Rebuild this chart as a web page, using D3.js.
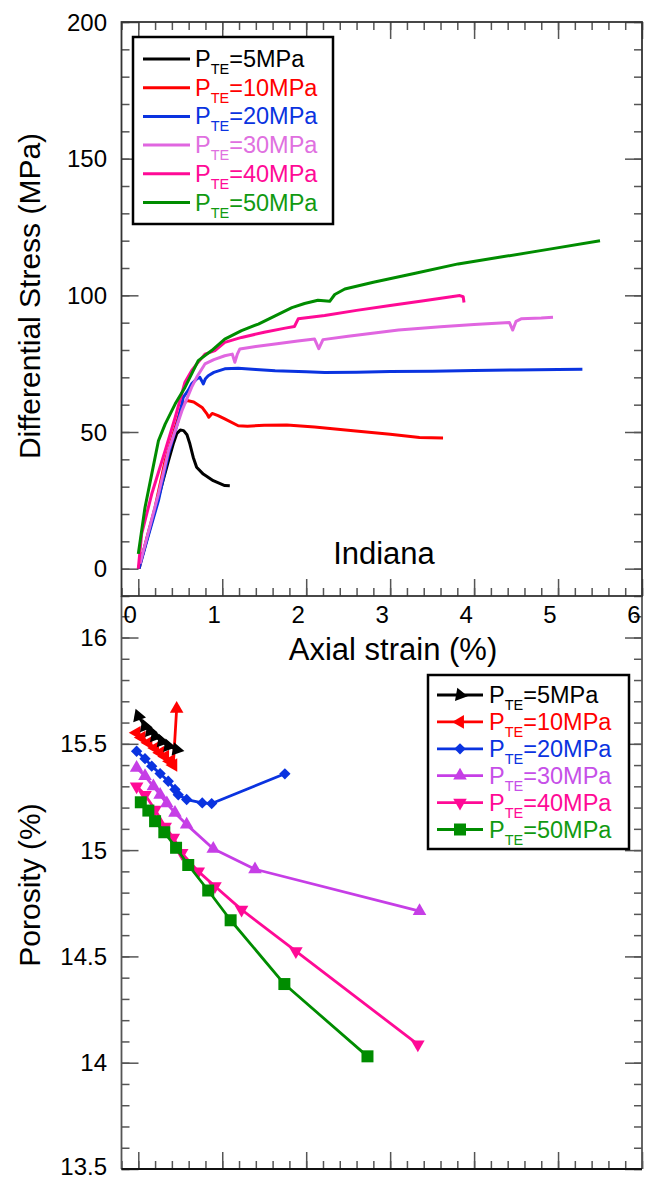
<!DOCTYPE html>
<html><head><meta charset="utf-8">
<script src="https://cdn.jsdelivr.net/npm/d3@7"></script>
<style>html,body{margin:0;padding:0;background:#fff;} svg{display:block;font-family:"Liberation Sans",Arial,Helvetica,sans-serif;}</style>
</head><body><svg id="chart" width="646" height="1179"></svg>
<script>
// ---------- DATA ----------
const seriesLabels = ["=5MPa", "=10MPa", "=20MPa", "=30MPa", "=40MPa", "=50MPa"];

// Top: differential stress (MPa) vs axial strain (%)
const strain5  = [0, 0.06, 0.12, 0.24, 0.36, 0.42, 0.46, 0.5, 0.54, 0.58, 0.615, 0.655, 0.695, 0.774, 0.893, 1.03, 1.09];
const stress5  = [0, 6, 12.7, 26.1, 39.5, 46, 49.5, 50.7, 50.5, 49, 45.6, 40.7, 37.1, 34.6, 32.2, 30.4, 30.3];
const strain10 = [0.01, 0.1, 0.2, 0.32, 0.44, 0.52, 0.58, 0.66, 0.76, 0.82, 0.84, 0.88, 0.95, 1.03, 1.19, 1.3, 1.5, 1.77, 2.1, 2.56, 3.0, 3.35, 3.63];
const stress10 = [0, 11, 22.4, 39.5, 51.7, 59.6, 61.5, 61, 59, 56.5, 55.4, 56.8, 56, 54.8, 52.3, 52.1, 52.5, 52.6, 51.8, 50.5, 49.2, 48.0, 47.8];
const strain20 = [0.01, 0.1, 0.24, 0.36, 0.476, 0.536, 0.6, 0.635, 0.7, 0.734, 0.76, 0.774, 0.8, 0.833, 0.9, 1.03, 1.19, 1.4, 1.63, 2.0, 2.22, 2.6, 3.0, 3.5, 4.0, 4.5, 5.0, 5.29];
const stress20 = [0, 10, 24.9, 42, 54.2, 62.7, 65.5, 67.6, 69.5, 70, 68.5, 67.6, 69.5, 70.6, 71.8, 73.1, 73.3, 72.9, 72.4, 72, 71.8, 71.9, 72.1, 72.2, 72.5, 72.7, 72.9, 73.0];
const strain30 = [0.02, 0.1, 0.24, 0.36, 0.52, 0.635, 0.695, 0.794, 0.9, 1.03, 1.12, 1.15, 1.18, 1.21, 1.4, 1.63, 1.9, 2.1, 2.15, 2.2, 2.5, 3.1, 3.6, 4.0, 4.42, 4.46, 4.5, 4.56, 4.8, 4.94];
const stress30 = [1.8, 11, 27.3, 43.2, 57.8, 66.3, 70, 74.9, 76.5, 77.9, 78.5, 75.5, 78.5, 80.4, 81.3, 82.2, 83.3, 84, 80.5, 83.8, 85, 87.3, 88.5, 89.3, 90.1, 87.3, 90.5, 91.4, 91.7, 92];
const strain40 = [0.0, 0.04, 0.16, 0.32, 0.44, 0.556, 0.635, 0.7, 0.794, 0.913, 1.03, 1.23, 1.5, 1.75, 1.86, 1.905, 2.22, 2.6, 3.0, 3.4, 3.83, 3.87, 3.88];
const stress40 = [0, 12.7, 27.3, 43.2, 55.4, 68.2, 72.4, 75, 78.5, 79.8, 82.8, 84.6, 86.5, 88, 88.6, 91.4, 92.6, 94.5, 96.3, 98, 99.9, 99.5, 97.4];
const strain50 = [0.0, 0.08, 0.16, 0.24, 0.32, 0.44, 0.556, 0.714, 0.874, 1.03, 1.23, 1.43, 1.63, 1.83, 1.98, 2.14, 2.28, 2.34, 2.46, 2.8, 3.3, 3.81, 4.3, 4.9, 5.5];
const stress50 = [5.4, 22.4, 34.6, 46.8, 52.9, 60.3, 66.3, 76.1, 79.8, 84, 87.1, 89.5, 92.5, 95.5, 97, 98.2, 97.8, 100.3, 102.3, 104.8, 108.1, 111.5, 113.9, 116.9, 120];

// Bottom: porosity (%) vs axial strain (%)
const pStrain5  = [0.0, 0.08, 0.14, 0.2, 0.28, 0.357, 0.457];
const poro5     = [15.63, 15.583, 15.56, 15.536, 15.512, 15.49, 15.473];
const pStrain10 = [-0.02, 0.04, 0.12, 0.2, 0.26, 0.32, 0.377, 0.417, 0.457];
const poro10    = [15.552, 15.53, 15.505, 15.48, 15.458, 15.44, 15.418, 15.40, 15.665];
const pStrain20 = [-0.02, 0.08, 0.16, 0.26, 0.357, 0.437, 0.476, 0.576, 0.762, 0.874, 1.746];
const poro20    = [15.465, 15.43, 15.395, 15.36, 15.324, 15.285, 15.26, 15.238, 15.222, 15.219, 15.359];
const pStrain30 = [-0.02, 0.08, 0.18, 0.26, 0.34, 0.437, 0.576, 0.893, 1.39, 3.35];
const poro30    = [15.387, 15.348, 15.30, 15.26, 15.22, 15.175, 15.12, 15.006, 14.91, 14.713];
const pStrain40 = [-0.02, 0.08, 0.2, 0.32, 0.417, 0.517, 0.714, 0.913, 1.23, 1.877, 3.33];
const poro40    = [15.30, 15.26, 15.19, 15.11, 15.058, 14.987, 14.90, 14.83, 14.72, 14.525, 14.086];
const pStrain50 = [0.03, 0.12, 0.2, 0.31, 0.45, 0.595, 0.833, 1.10, 1.74, 2.73];
const poro50    = [15.225, 15.186, 15.136, 15.084, 15.011, 14.93, 14.81, 14.67, 14.37, 14.03];

// Tick labels
const xTickLabels = ["0", "1", "2", "3", "4", "5", "6"];
const yTopTickLabels = ["0", "50", "100", "150", "200"];
const yBotTickLabels = ["13.5", "14", "14.5", "15", "15.5", "16"];

// ---------- STYLE ----------
const topColors = ["#000000", "#ff0000", "#0a33e0", "#e066e0", "#ff0a96", "#008c00"];
const botColors = ["#000000", "#ff0000", "#0a33e0", "#c63ee6", "#ff0a96", "#008c00"];

const svg = d3.select("#chart");
const x = d3.scaleLinear().domain([-0.2, 6]).range([121.5, 642]);
const yTop = d3.scaleLinear().domain([-10, 200]).range([596, 22]);
const yBot = d3.scaleLinear().domain([13.5, 16.2]).range([1169, 595]);

const tickColor = "#555";
function styleAxis(g) {
  g.select(".domain").remove();
  g.selectAll(".tick line").attr("stroke", tickColor).attr("stroke-width", 1.5);
  g.selectAll("text").remove();
}
const xMinor = d3.range(-1, 31).map(i => +(i * 0.2).toFixed(2));
const xMajor = d3.range(0, 7);

function frameAxes(yScale, yMinor, yMajor, top, bottom, drawTop) {
  const L = 121.5, R = 642;
  const make = [
    [d3.axisBottom(x), `translate(0,${bottom})`, xMinor, -8],
    [d3.axisBottom(x), `translate(0,${bottom})`, xMajor, -17],
    [d3.axisLeft(yScale), `translate(${L},0)`, yMinor, -8],
    [d3.axisLeft(yScale), `translate(${L},0)`, yMajor, -17],
    [d3.axisRight(yScale), `translate(${R},0)`, yMinor, -8],
    [d3.axisRight(yScale), `translate(${R},0)`, yMajor, -17]
  ];
  if (drawTop) {
    make.push([d3.axisTop(x), `translate(0,${top})`, xMinor, -8]);
    make.push([d3.axisTop(x), `translate(0,${top})`, xMajor, -17]);
  }
  make.forEach(([ax, tr, vals, sz]) => {
    svg.append("g").attr("transform", tr)
      .call(ax.tickValues(vals).tickSize(sz).tickSizeOuter(0).tickFormat(""))
      .call(styleAxis);
  });
}

// ---------- BOTTOM PLOT ----------
const yBotMinor = d3.range(0, 28).map(i => +(13.5 + i * 0.1).toFixed(2));
const yBotMajor = [13.5, 14, 14.5, 15, 15.5, 16];
frameAxes(yBot, yBotMinor, yBotMajor, 596, 1169, false);
svg.append("line").attr("x1", 121.5).attr("x2", 121.5).attr("y1", 596).attr("y2", 1169).attr("stroke", "#555").attr("stroke-width", 1.8);
svg.append("line").attr("x1", 642).attr("x2", 642).attr("y1", 596).attr("y2", 1169).attr("stroke", "#555").attr("stroke-width", 1.8);
svg.append("line").attr("x1", 121.5).attr("x2", 642).attr("y1", 1169).attr("y2", 1169).attr("stroke", "#111").attr("stroke-width", 2);

const botSeries = [
  {xs: pStrain10, ys: poro10, c: botColors[1], m: "tri", rot: -90},
  {xs: pStrain5,  ys: poro5,  c: botColors[0], m: "tri", rot: 100},
  {xs: pStrain20, ys: poro20, c: botColors[2], m: "dia", rot: 45},
  {xs: pStrain40, ys: poro40, c: botColors[4], m: "tri", rot: 180},
  {xs: pStrain30, ys: poro30, c: botColors[3], m: "tri", rot: 0},
  {xs: pStrain50, ys: poro50, c: botColors[5], m: "sq", rot: 0}
];
function symPath(m) {
  if (m === "tri") return d3.symbol(d3.symbolTriangle, 80)();
  if (m === "dia") return d3.symbol(d3.symbolSquare, 64)();
  return d3.symbol(d3.symbolSquare, 144)();
}
const line = d3.line();
botSeries.forEach(s => {
  const pts = s.xs.map((v, i) => [x(v), yBot(s.ys[i])]);
  svg.append("path").attr("d", line(pts)).attr("fill", "none").attr("stroke", s.c).attr("stroke-width", 2.8).attr("stroke-linejoin", "round");
  svg.append("g").selectAll("path").data(pts).join("path")
    .attr("d", symPath(s.m))
    .attr("transform", (p, i) => {
      let r = s.rot;
      if (s.c === botColors[1] && i === pts.length - 1) r = 0;
      return `translate(${p[0]},${p[1]}) rotate(${r})`;
    })
    .attr("fill", s.c);
});

// bottom y labels
svg.append("g").selectAll("text").data(yBotMajor).join("text")
  .attr("x", 107).attr("y", d => Math.min(yBot(d) + 8.5, 1175)).attr("text-anchor", "end")
  .attr("font-size", 24).attr("fill", "#000").text((d, i) => yBotTickLabels[i]);
svg.append("text").attr("transform", "translate(40,885) rotate(-90)").attr("text-anchor", "middle")
  .attr("font-size", 30).text("Porosity (%)");

// bottom legend
const lg2 = svg.append("g");
lg2.append("rect").attr("x", 428).attr("y", 675).attr("width", 201).attr("height", 174).attr("fill", "#fff").attr("stroke", "#000").attr("stroke-width", 2.5);
const botLegSeries = [
  {c: botColors[0], m: "tri", rot: 100}, {c: botColors[1], m: "tri", rot: -90},
  {c: botColors[2], m: "dia", rot: 45}, {c: botColors[3], m: "tri", rot: 0},
  {c: botColors[4], m: "tri", rot: 180}, {c: botColors[5], m: "sq", rot: 0}
];
const botTextColors = ["#000", "#ff0000", "#0a33e0", "#c650e8", "#ff0a96", "#119a11"];
botLegSeries.forEach((s, i) => {
  const yy = 695 + i * 26.9;
  lg2.append("line").attr("x1", 437).attr("x2", 483).attr("y1", yy).attr("y2", yy).attr("stroke", s.c).attr("stroke-width", 2.8);
  lg2.append("path").attr("d", symPath(s.m)).attr("transform", `translate(460,${yy}) rotate(${s.rot})`).attr("fill", s.c);
  const t = lg2.append("text").attr("x", 489).attr("y", yy + 8).attr("font-size", 23.5).attr("fill", botTextColors[i]);
  t.append("tspan").text("P");
  t.append("tspan").attr("font-size", 14.5).attr("dy", 7).text("TE");
  t.append("tspan").attr("dy", -7).text(seriesLabels[i]);
});

// ---------- TOP PLOT ----------
svg.append("rect").attr("x", 121.5).attr("y", 22).attr("width", 520.5).attr("height", 574).attr("fill", "#fff");
const yTopMinor = d3.range(-1, 21).map(i => i * 10);
const yTopMajor = [0, 50, 100, 150, 200];
frameAxes(yTop, yTopMinor, yTopMajor, 22, 596, true);
svg.append("rect").attr("x", 121.5).attr("y", 22).attr("width", 520.5).attr("height", 574).attr("fill", "none").attr("stroke", "#333").attr("stroke-width", 1.8);

const topSeries = [
  {xs: strain5, ys: stress5, c: topColors[0]},
  {xs: strain10, ys: stress10, c: topColors[1]},
  {xs: strain20, ys: stress20, c: topColors[2]},
  {xs: strain30, ys: stress30, c: topColors[3]},
  {xs: strain40, ys: stress40, c: topColors[4]},
  {xs: strain50, ys: stress50, c: topColors[5]}
];
topSeries.forEach(s => {
  const pts = s.xs.map((v, i) => [x(v), yTop(s.ys[i])]);
  svg.append("path").attr("d", line(pts)).attr("fill", "none").attr("stroke", s.c).attr("stroke-width", 3).attr("stroke-linejoin", "round");
});

svg.append("g").selectAll("text").data(yTopMajor).join("text")
  .attr("x", 107).attr("y", d => yTop(d) + 8.5).attr("text-anchor", "end")
  .attr("font-size", 24).attr("fill", "#000").text((d, i) => yTopTickLabels[i]);
svg.append("g").selectAll("text").data(xMajor).join("text")
  .attr("x", d => x(d) - 8).attr("y", 623).attr("text-anchor", "middle")
  .attr("font-size", 24).attr("fill", "#000").text((d, i) => xTickLabels[i]);
svg.append("text").attr("x", 393).attr("y", 660).attr("text-anchor", "middle").attr("font-size", 31).text("Axial strain (%)");
svg.append("text").attr("transform", "translate(40,296) rotate(-90)").attr("text-anchor", "middle")
  .attr("font-size", 30).text("Differential Stress (MPa)");
svg.append("text").attr("x", 384).attr("y", 564).attr("text-anchor", "middle").attr("font-size", 31).text("Indiana");

// top legend
const lg1 = svg.append("g");
lg1.append("rect").attr("x", 133).attr("y", 37).attr("width", 200).attr("height", 187).attr("fill", "#fff").attr("stroke", "#000").attr("stroke-width", 2.5);
const topTextColors = ["#000", "#ff0000", "#0a33e0", "#e070e0", "#ff0a96", "#119a11"];
topColors.forEach((c, i) => {
  const yy = 59 + i * 28.7;
  lg1.append("line").attr("x1", 143).attr("x2", 190).attr("y1", yy).attr("y2", yy).attr("stroke", c).attr("stroke-width", 3);
  const t = lg1.append("text").attr("x", 195).attr("y", yy + 8).attr("font-size", 23.5).attr("fill", topTextColors[i]);
  t.append("tspan").text("P");
  t.append("tspan").attr("font-size", 14.5).attr("dy", 7).text("TE");
  t.append("tspan").attr("dy", -7).text(seriesLabels[i]);
});
</script></body></html>
